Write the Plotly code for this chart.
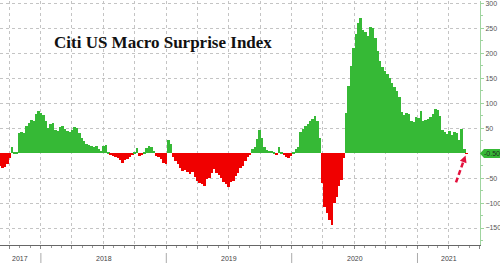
import pandas as pd
import plotly.graph_objects as go

# ---- data (weekly readings of the Citi US Macro Surprise Index) ----
start_date = "2017-09-04"
values = [
    -25, -30, -28, -22, -10, 13, 3, 3, 41, 42,
    40, 55, 60, 67, 65, 78, 85, 80, 76, 65,
    51, 58, 60, 47, 45, 52, 55, 48, 45, 42,
    46, 53, 50, 40, 30, 25, 18, 17, 14, 12,
    15, 8, 4, 14, 16, 2, -3, -5, -8, -10,
    -14, -19, -13, -12, -8, -3, 3, 10, -5, -3,
    2, 10, 14, 13, 4, -5, -8, -12, -20, -22,
    27, 18, -8, -15, -22, -30, -35, -33, -38, -42,
    -38, -48, -55, -60, -62, -66, -52, -50, -40, -32,
    -40, -44, -50, -57, -62, -67, -58, -55, -45, -40,
    -30, -25, -15, -8, -3, 8, 12, 28, 46, 30,
    12, 6, 5, 4, 3, -4, 12, 3, -3, -8,
    -10, -6, 3, 8, 12, 42, 48, 55, 58, 65,
    68, 75, 64, 30, -60, -107, -120, -133, -143, -100,
    -88, -65, -53, -10, 80, 135, 175, 210, 238, 261,
    270, 246, 242, 235, 253, 250, 230, 205, 185, 173,
    165, 158, 150, 140, 133, 125, 112, 82, 76, 80,
    78, 64, 62, 72, 70, 84, 65, 67, 68, 72,
    78, 88, 86, 75, 47, 42, 38, 44, 37, 42,
    40, 26, 48, 8, -0.5,
]
dates = pd.date_range(start_date, periods=len(values), freq="7D")

x_range = ["2017-09-04", "2021-07-02"]
y_range = [-184, 305]
y_ticks = [-150, -100, -50, 50, 100, 150, 200, 250, 300]
years = [2017, 2018, 2019, 2020, 2021]
title_text = "Citi US Macro Surprise Index"

GREEN = "#36b936"
RED = "#f00000"

colors = [GREEN if v >= 0 else RED for v in values]

fig = go.Figure()
fig.add_trace(go.Bar(
    x=dates, y=values, marker=dict(color=colors, line=dict(width=0)),
    width=7.6 * 86400000, hoverinfo="skip",
))

W, H = 500, 263
ML, MR, MT, MB = 0, 20, 1, 18
PH = H - MT - MB

fig.update_layout(
    width=W, height=H, margin=dict(l=ML, r=MR, t=MT, b=MB, pad=0),
    paper_bgcolor="white", plot_bgcolor="white",
    bargap=0, showlegend=False,
    font=dict(family="Liberation Sans", size=7, color="#555"),
    xaxis=dict(
        type="date", range=x_range, showgrid=True, gridcolor="#c4c4c4",
        griddash="dot", gridwidth=1, dtick="M3", tick0="2017-10-01",
        ticks="outside", ticklen=3, tickcolor="#888", showticklabels=False,
        showline=True, linecolor="#666", linewidth=1, zeroline=False,
        minor=dict(dtick="M1", tick0="2017-10-01", ticks="outside", ticklen=2,
                   tickcolor="#999", showgrid=False),
    ),
    yaxis=dict(
        side="right", range=y_range, tickvals=y_ticks, showgrid=True,
        gridcolor="#c4c4c4", griddash="dot", gridwidth=1, zeroline=False,
        showline=True, linecolor="#9fd49f", linewidth=1,
        ticks="outside", ticklen=3, tickcolor="#9fd49f",
        tickfont=dict(size=7, color="#555"), ticklabeloverflow="allow",
        minor=dict(dtick=25, tick0=0, ticks="outside", ticklen=2,
                   tickcolor="#9fd49f", showgrid=False),
    ),
)

# year labels centred in the visible part of each year, with separators
lo, hi = pd.Timestamp(x_range[0]), pd.Timestamp(x_range[1])
for yr in years:
    a = max(pd.Timestamp(f"{yr}-01-01"), lo)
    b = min(pd.Timestamp(f"{yr + 1}-01-01"), hi)
    mid = a + (b - a) / 2
    fig.add_annotation(x=mid, xref="x", y=-13 / PH,
                       yref="paper", text=str(yr), showarrow=False,
                       font=dict(size=7, color="#444"), yanchor="middle")
    if pd.Timestamp(f"{yr}-01-01") > lo:
        fig.add_shape(type="line", xref="x", yref="paper",
                      x0=f"{yr}-01-01", x1=f"{yr}-01-01",
                      y0=-8 / PH, y1=-18 / PH,
                      line=dict(color="#aaaaaa", width=1))

# title
fig.add_annotation(x=52 / (W - ML - MR), xref="paper", xanchor="left",
                   y=1 - 42 / PH, yref="paper", yanchor="middle",
                   text=f"<b>{title_text}</b>", showarrow=False,
                   font=dict(family="Liberation Serif", size=17, color="#111"))

# last-value tag on the right axis
last_val = values[-1]
fig.add_shape(type="path", xref="paper", xsizemode="pixel", xanchor=1,
              yref="y", ysizemode="pixel", yanchor=last_val,
              path="M 0,0 L 4,4.5 L 21,4.5 L 21,-4.5 L 4,-4.5 Z",
              fillcolor=GREEN, line=dict(width=0), layer="above")
fig.add_annotation(x=1, xref="paper", xanchor="left", xshift=2,
                   y=last_val, yref="y", yanchor="middle",
                   text=f"{last_val:.2f}", showarrow=False,
                   font=dict(size=7, color="#1d2b1d"))

# red dashed arrow pointing at the last reading
last_date = dates[-1]
fig.add_shape(type="path", xref="x", xsizemode="pixel", xanchor=last_date,
              yref="y", ysizemode="pixel", yanchor=last_val,
              path="M -10.6,-29 L -3.4,-8.6",
              line=dict(color="#e3103c", width=2.5, dash="5px,3px"),
              layer="above")
fig.add_shape(type="path", xref="x", xsizemode="pixel", xanchor=last_date,
              yref="y", ysizemode="pixel", yanchor=last_val,
              path="M -1,-2 L -0.1,-9.8 L -6.7,-7.4 Z",
              fillcolor="#e3103c", line=dict(width=0), layer="above")

fig.write_html("out.html")
